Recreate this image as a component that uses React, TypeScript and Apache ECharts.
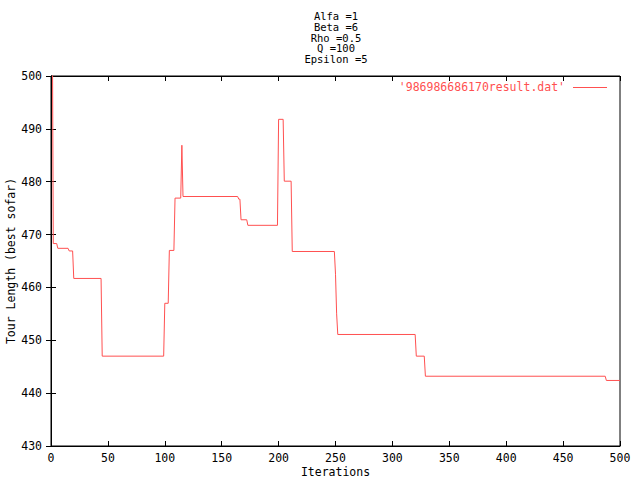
import React, { useEffect, useRef } from "react";
import * as echarts from "echarts";

const titleLines = ["Alfa =1", "Beta =6", "Rho =0.5", "Q =100", "Epsilon =5"];
const seriesName = "'986986686170result.dat'";
const xAxisName = "Iterations";
const yAxisName = "Tour Length (best sofar)";

// change points of the best-so-far tour length (iteration, value)
const iterations = [
  1, 2, 5, 6, 15, 16, 19, 20, 44, 45,
  99, 100, 103, 104, 108, 109, 114, 115, 116, 164,
  165, 166, 167, 172, 173, 199, 200, 204, 205, 211,
  212, 249, 250, 251, 252, 320, 321, 328, 329, 487,
  488, 500,
];
const bestSoFar = [
  520, 468.3, 468.3, 467.4, 467.4, 466.9, 466.9, 461.7, 461.7, 447.0,
  447.0, 457.0, 457.0, 467.0, 467.0, 476.9, 476.9, 486.9, 477.2, 477.2,
  476.7, 476.7, 472.8, 472.8, 471.75, 471.75, 491.8, 491.8, 480.1, 480.1,
  466.8, 466.8, 462.5, 455.0, 451.1, 451.1, 447.0, 447.0, 443.2, 443.2,
  442.4, 442.4,
];

const xMin = 0, xMax = 500, xStep = 50;
const yMin = 430, yMax = 500, yStep = 10;

const FONT = "DejaVu Sans Mono";
const RED = "#ff5050";

export default function App() {
  const ref = useRef<HTMLDivElement>(null);
  useEffect(() => {
    if (!ref.current) return;
    const chart = echarts.init(ref.current, null, { renderer: "svg" });
    const data = iterations.map((it, i) => [it, bestSoFar[i]]);
    const gridLeft = 51, gridTop = 76, gridW = 569, gridH = 370;
    const labelStyle = { fontFamily: FONT, fontSize: 11.5, color: "#000" };
    const baseX = {
      type: "value",
      min: xMin,
      max: xMax,
      interval: xStep,
      splitLine: { show: false },
      axisLine: { show: true, lineStyle: { color: "#000", width: 1 } },
      axisTick: { show: true, inside: true, length: 5, lineStyle: { color: "#000" } },
    };
    const baseY = {
      type: "value",
      min: yMin,
      max: yMax,
      interval: yStep,
      splitLine: { show: false },
      axisLine: { show: true, lineStyle: { color: "#000", width: 1 } },
      axisTick: { show: true, inside: true, length: 5, lineStyle: { color: "#000" } },
    };
    const titleGraphics = titleLines.map((t, i) => ({
      type: "text",
      x: 336,
      y: 16 + i * 10.75,
      style: {
        text: t,
        font: `10.5px "${FONT}"`,
        fill: "#000",
        align: "center",
        textAlign: "center",
        verticalAlign: "middle",
        textVerticalAlign: "middle",
      },
    }));
    chart.setOption({
      animation: false,
      backgroundColor: "#fff",
      grid: {
        left: gridLeft,
        top: gridTop,
        width: gridW,
        height: gridH,
        containLabel: false,
        outerBoundsMode: "none",
        show: true,
        borderColor: "#000",
        borderWidth: 1,
      },
      xAxis: [
        {
          ...baseX,
          position: "bottom",
          name: xAxisName,
          nameLocation: "middle",
          nameGap: 20,
          nameMoveOverlap: false,
          nameTextStyle: labelStyle,
          axisLabel: { ...labelStyle, margin: 6 },
        },
        { ...baseX, position: "top", axisLabel: { show: false } },
      ],
      yAxis: [
        {
          ...baseY,
          position: "left",
          name: yAxisName,
          nameLocation: "middle",
          nameGap: 34,
          nameMoveOverlap: false,
          nameTextStyle: labelStyle,
          axisLabel: { ...labelStyle, margin: 9 },
        },
        { ...baseY, position: "right", axisLabel: { show: false } },
      ],
      graphic: [
        ...titleGraphics,
        {
          type: "text",
          x: 565,
          y: 87,
          style: {
            text: seriesName,
            font: `11.5px "${FONT}"`,
            fill: RED,
            align: "right",
            textAlign: "right",
            verticalAlign: "middle",
            textVerticalAlign: "middle",
          },
        },
        {
          type: "line",
          shape: { x1: 573, y1: 87.5, x2: 607, y2: 87.5 },
          style: { stroke: RED, lineWidth: 1 },
        },
      ],
      series: [
        {
          type: "line",
          name: seriesName,
          xAxisIndex: 0,
          yAxisIndex: 0,
          data,
          symbol: "none",
          clip: true,
          lineStyle: { color: RED, width: 1 },
          itemStyle: { color: RED },
        },
      ],
    });
    return () => chart.dispose();
  }, []);
  return (
    <div
      ref={ref}
      style={{ position: "fixed", left: 0, top: 0, width: 640, height: 480, background: "#fff" }}
    />
  );
}
